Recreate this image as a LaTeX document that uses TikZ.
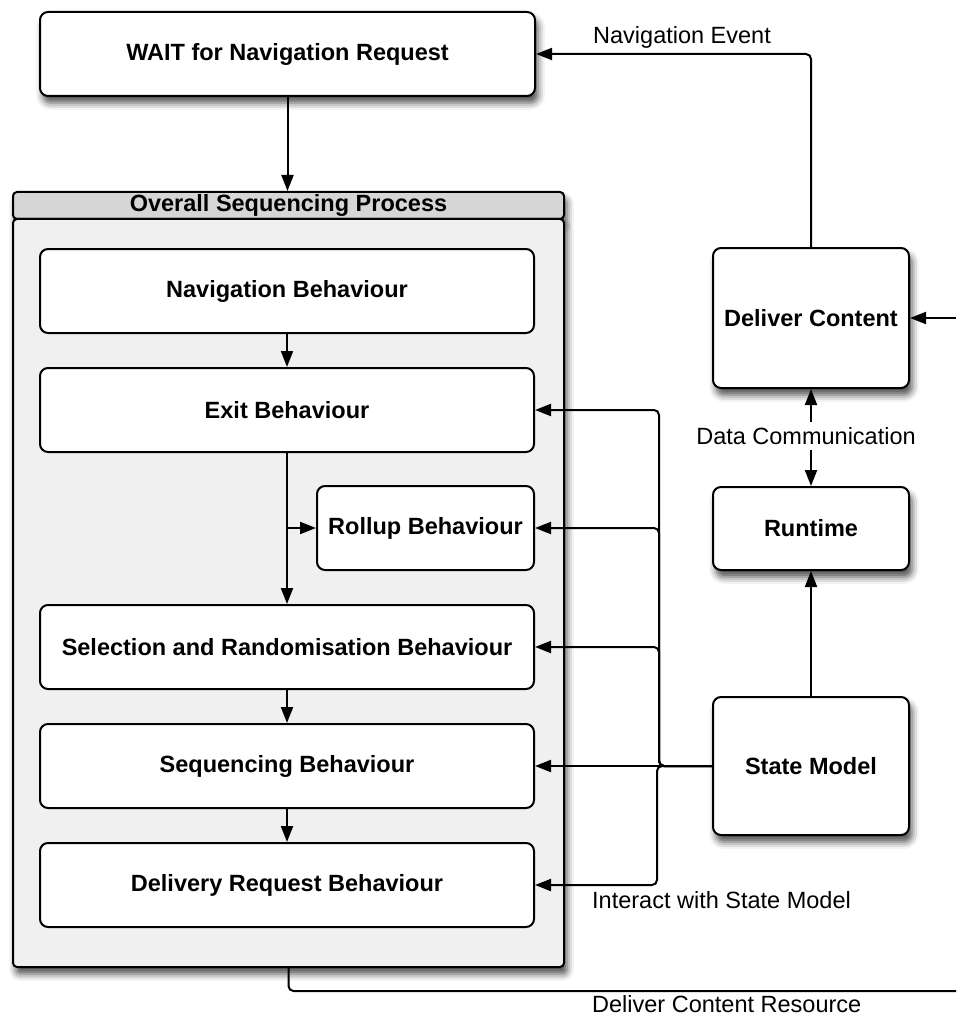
\documentclass[tikz,border=0pt]{standalone}
\usepackage{fontspec}
\setmainfont{Liberation Sans}
\usetikzlibrary{arrows.meta,shadows.blur}

\begin{document}
\begin{tikzpicture}[x=1pt,y=-1pt,
  txt/.style={font=\fontsize{23.5}{28}\selectfont},
  box/.style={draw=black, line width=2pt, rounded corners=8pt, fill=white,
    inner sep=0pt, font=\fontsize{23.5}{28}\selectfont\bfseries, align=center},
  shadowed/.style={blur shadow={shadow xshift=3pt, shadow yshift=-7pt,
    shadow blur radius=7pt, shadow opacity=70}},
  conn/.style={line width=2pt, -{Triangle[length=16pt,width=12pt]}},
  wire/.style={line width=2pt, rounded corners=5pt},
  lbl/.style={txt, inner sep=0pt, anchor=west}
]
\useasboundingbox (0,0) rectangle (956,1016);

% waiting state
\node[box, shadowed, minimum width=495pt, minimum height=84pt] (wait) at (287.5,54) {WAIT for Navigation Request};

% overall sequencing process container
\node[box, shadowed, rounded corners=4pt, fill=black!16, minimum width=551pt, minimum height=27pt] (hdr) at (288.5,205.5) {Overall Sequencing Process};
\node[box, shadowed, rounded corners=4pt, fill=black!6, minimum width=551pt, minimum height=748pt] (body) at (288.5,593) {};

% behaviours inside the process
\node[box, minimum width=494pt, minimum height=84pt] (nav) at (287,291) {Navigation Behaviour};
\node[box, minimum width=494pt, minimum height=84pt] (exit) at (287,410) {Exit Behaviour};
\node[box, minimum width=217pt, minimum height=84pt] (rollup) at (425.5,528) {Rollup Behaviour};
\node[box, minimum width=494pt, minimum height=84pt] (sel) at (287,647) {Selection and Randomisation Behaviour};
\node[box, minimum width=494pt, minimum height=84pt] (seq) at (287,766) {Sequencing Behaviour};
\node[box, minimum width=494pt, minimum height=84pt] (del) at (287,885) {Delivery Request Behaviour};

% runtime side
\node[box, shadowed, minimum width=196pt, minimum height=140pt] (dc) at (811,318) {Deliver Content};
\node[box, shadowed, minimum width=196pt, minimum height=83pt] (rt) at (811,528.5) {Runtime};
\node[box, shadowed, minimum width=196pt, minimum height=138pt] (sm) at (811,766) {State Model};

% labels
\node[lbl] (navev) at (593,37) {Navigation Event};
\node[txt, inner xsep=0pt, inner ysep=5pt] (dcomm) at (806,436) {Data Communication};
\node[lbl] (inter) at (592,900) {Interact with State Model};
\node[lbl] (dcres) at (592,1004) {Deliver Content Resource};

% flow through the process
\draw[conn] (wait.south) -- (wait.south |- hdr.north);
\draw[conn] (nav.south) -- (exit.north);
\draw[conn] (exit.south) -- (sel.north);
\draw[conn] (exit.south |- rollup.west) -- (rollup.west);
\draw[conn] (sel.south) -- (seq.north);
\draw[conn] (seq.south) -- (del.north);

% state model interactions
\coordinate (busA) at (659,766);
\coordinate (busB) at (657,766);
\draw[conn, wire] (sm.west) -- (busA) -- (busA |- exit.east) -- (exit.east);
\draw[conn, wire] (sm.west) -- (busA) -- (busA |- rollup.east) -- (rollup.east);
\draw[conn, wire] (sm.west) -- (busA) -- (busA |- sel.east) -- (sel.east);
\draw[conn] (sm.west) -- (seq.east);
\draw[conn, wire] (sm.west) -- (busB) -- (busB |- del.east) -- (del.east);

% runtime connections
\draw[conn] (sm.north) -- (rt.south);
\draw[conn] (dc.south |- dcomm.north) -- (dc.south);
\draw[conn] (rt.north |- dcomm.south) -- (rt.north);
\draw[conn, wire] (dc.north) -- (dc.north |- wait.east) -- (wait.east);

% resource delivery loop leaving and re-entering the page edge
\coordinate (rin) at (956,318);
\coordinate (rout) at (956,991);
\draw[conn] (rin) -- (dc.east);
\draw[wire] (body.south) -- (body.south |- rout) -- (rout);
\end{tikzpicture}
\end{document}
